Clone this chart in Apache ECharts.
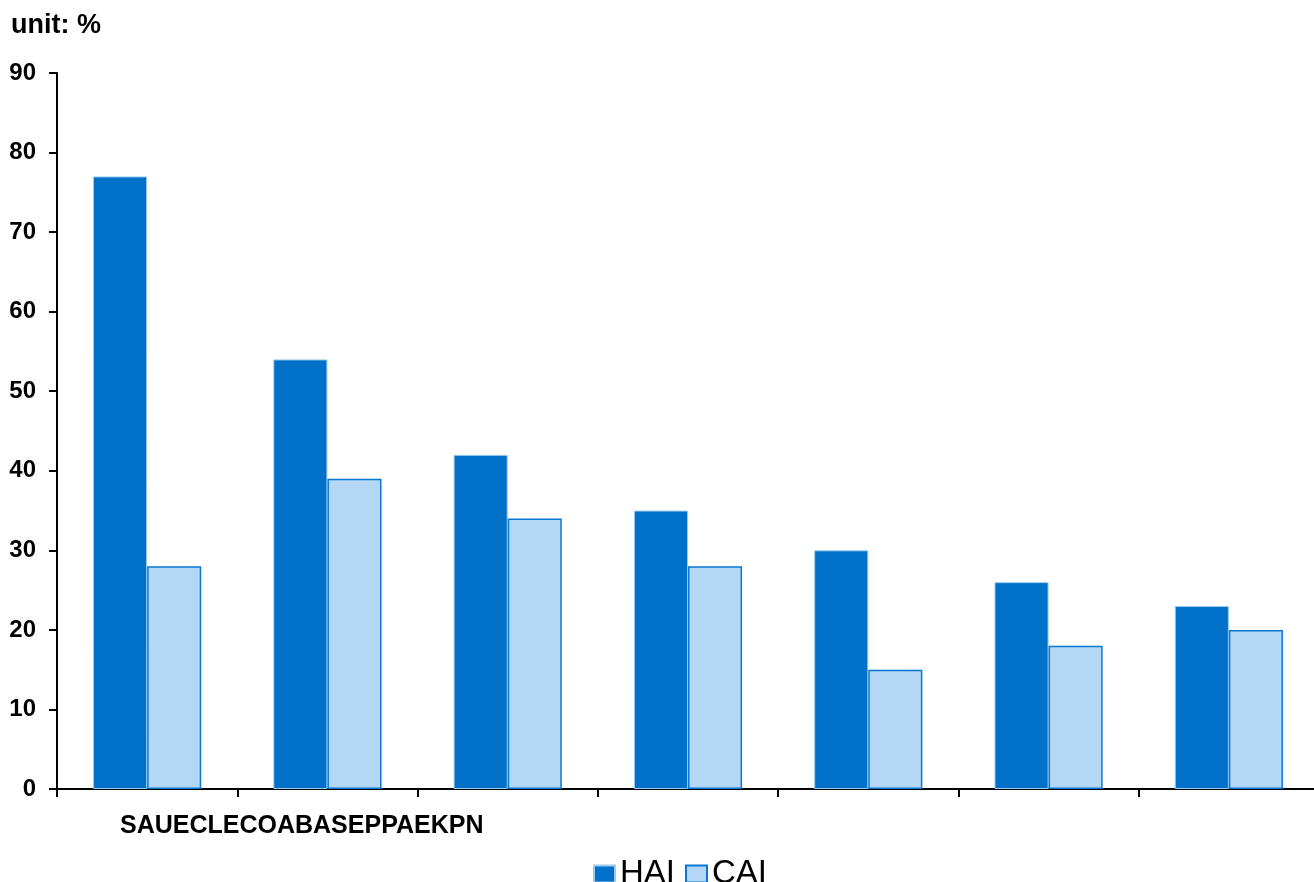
<!DOCTYPE html>
<html>
<head>
<meta charset="utf-8">
<script src="https://cdn.jsdelivr.net/npm/echarts@6/dist/echarts.min.js"></script>
<style>
    html, body { margin: 0; padding: 0; background: #fff; overflow: hidden; }
    #chart { width: 1319px; height: 882px; }
</style>
</head>
<body>
<div id="chart"></div>
<script>
    // categories (the labels run together under the first group in the source)
    var codes = ['SAU', 'ECL', 'ECO', 'ABA', 'SEP', 'PAE', 'KPN'];
    var hai = [77, 54, 42, 35, 30, 26, 23];
    var cai = [28, 39, 34, 28, 15, 18, 20];
    var yTicks = [0, 10, 20, 30, 40, 50, 60, 70, 80, 90];

    var chart = echarts.init(document.getElementById('chart'));
    chart.setOption({
        animation: false,
        title: {
            text: 'unit: %',
            left: 11,
            top: 11,
            padding: 0,
            textStyle: { fontFamily: 'Liberation Sans', fontWeight: 'bold', fontSize: 27, lineHeight: 30, color: '#000' }
        },
        legend: {
            data: ['HAI', 'CAI'],
            top: 856,
            left: 593,
            padding: 0,
            itemWidth: 21,
            itemHeight: 17,
            itemGap: 10,
            icon: 'rect',
            textStyle: { fontFamily: 'Liberation Sans', fontSize: 33, lineHeight: 36, color: '#000', padding: [0, 0, 0, 0] }
        },
        grid: {
            left: 57,
            right: 0,
            top: 73,
            bottom: 93,
            containLabel: false
        },
        xAxis: {
            type: 'category',
            data: codes,
            axisLine: { lineStyle: { color: '#000', width: 2 } },
            axisTick: { show: true, length: 8, lineStyle: { color: '#000', width: 2 } },
            axisLabel: { show: false }
        },
        yAxis: {
            type: 'value',
            min: yTicks[0],
            max: yTicks[yTicks.length - 1],
            interval: 10,
            axisLine: { show: true, lineStyle: { color: '#000', width: 2 } },
            axisTick: { show: true, inside: false, length: 8, lineStyle: { color: '#000', width: 2 } },
            axisLabel: { margin: 21, fontFamily: 'Liberation Sans', fontWeight: 'bold', fontSize: 24, color: '#000' },
            splitLine: { show: false }
        },
        graphic: [{
            type: 'text',
            left: 120,
            top: 814,
            style: {
                text: codes.join(''),
                fontFamily: 'Liberation Sans',
                fontWeight: 'bold',
                fontSize: 25,
                fill: '#000'
            }
        }],
        series: [
            {
                name: 'HAI',
                type: 'bar',
                data: hai,
                barGap: 0,
                barCategoryGap: '40%',
                itemStyle: { color: '#0070C8', borderColor: '#9ccbf0', borderWidth: 1 }
            },
            {
                name: 'CAI',
                type: 'bar',
                data: cai,
                itemStyle: { color: '#B3D7F5', borderColor: '#0A78D2', borderWidth: 1.5 }
            }
        ]
    });
</script>
</body>
</html>
